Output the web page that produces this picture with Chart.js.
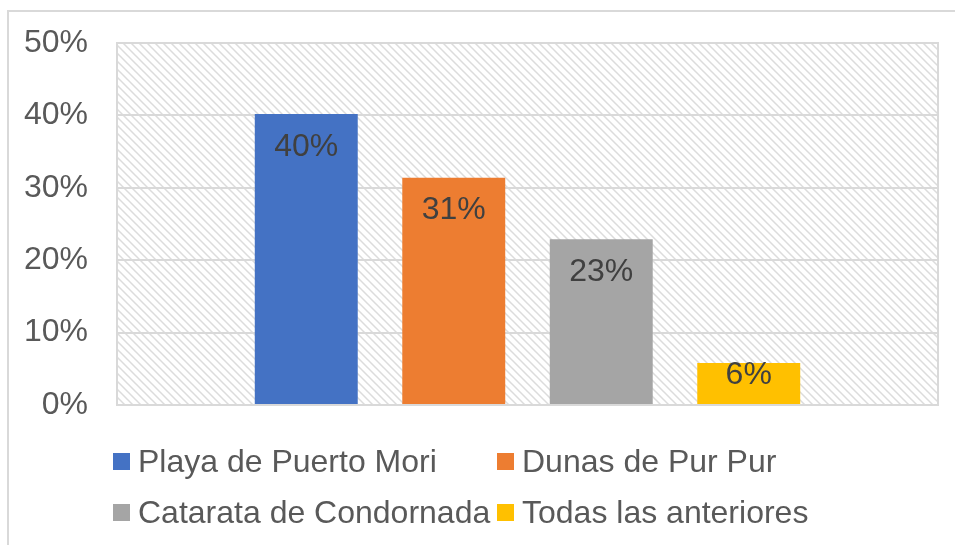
<!DOCTYPE html>
<html>
<head>
<meta charset="utf-8">
<script src="https://cdn.jsdelivr.net/npm/chart.js@4/dist/chart.umd.min.js"></script>
<style>
  body { margin: 0; background: #fff; }
  #wrap { position: relative; width: 955px; height: 545px; overflow: hidden; }
  #frame { position: absolute; left: 7px; top: 10px; width: 1000px; height: 600px; border: 2px solid #d9d9d9; box-sizing: border-box; }
  #myChart { position: absolute; left: 0; top: 0; }
  #legend { position: absolute; left: 113px; top: 440px; display: grid; grid-template-columns: 384px 384px; row-gap: 8px;
    font-family: "Liberation Sans", Arial, sans-serif; font-size: 32px; color: #595959; }
  #legend .item { display: flex; align-items: center; height: 43px; white-space: nowrap; }
  #legend .box { width: 17px; height: 17px; margin-right: 8px; flex: none; }
</style>
</head>
<body>
<div id="wrap">
  <div id="frame"></div>
  <canvas id="myChart" width="955" height="545"></canvas>
  <div id="legend"></div>
</div>
<script>
const categorias = ['Playa de Puerto Mori', 'Dunas de Pur Pur', 'Catarata de Condornada', 'Todas las anteriores'];
const valores = [40.2, 31.4, 22.9, 5.8];
const colores = ['#4472C4', '#ED7D31', '#A5A5A5', '#FFC000'];
const ticksY = [0, 10, 20, 30, 40, 50];

// trama diagonal del fondo del area de grafico
const patron = (() => {
  const c = document.createElement('canvas');
  c.width = 8; c.height = 8;
  const g = c.getContext('2d');
  g.fillStyle = '#fff';
  g.fillRect(0, 0, 8, 8);
  g.strokeStyle = '#dcdcdc';
  g.lineWidth = 1.5;
  g.beginPath();
  g.moveTo(-2, -2); g.lineTo(10, 10);
  g.moveTo(-6, 2); g.lineTo(2, 10);
  g.moveTo(6, -2); g.lineTo(10, 2);
  g.stroke();
  return g.createPattern(c, 'repeat');
})();

const fondo = {
  id: 'fondo',
  beforeDraw(chart) {
    const a = chart.chartArea;
    const ctx = chart.ctx;
    ctx.save();
    ctx.fillStyle = patron;
    ctx.fillRect(a.left, a.top, a.right - a.left, a.bottom - a.top);
    ctx.restore();
  },
  beforeDatasetsDraw(chart) {
    const a = chart.chartArea;
    const ctx = chart.ctx;
    ctx.save();
    ctx.strokeStyle = '#d9d9d9';
    ctx.lineWidth = 2;
    ctx.strokeRect(a.left, a.top, a.right - a.left, a.bottom - a.top);
    ctx.restore();
  }
};

const etiquetas = {
  id: 'etiquetas',
  afterDatasetsDraw(chart) {
    const ctx = chart.ctx;
    ctx.save();
    ctx.font = '32px "Liberation Sans", Arial, sans-serif';
    ctx.fillStyle = '#404040';
    ctx.textAlign = 'center';
    ctx.textBaseline = 'middle';
    chart.data.datasets.forEach((ds, i) => {
      const bar = chart.getDatasetMeta(i).data[0];
      const y = Math.min(bar.y + 33, bar.base - 29);
      ctx.fillText(Math.round(ds.data[0]) + '%', bar.x, y);
    });
    ctx.restore();
  }
};

const ctx = document.getElementById('myChart');

const myChart = new Chart(ctx, {
  type: 'bar',
  data: {
    labels: [''],
    datasets: categorias.map((nombre, i) => ({
      label: nombre,
      data: [valores[i]],
      backgroundColor: colores[i],
      categoryPercentage: 0.7186,
      barPercentage: 0.698
    }))
  },
  options: {
    responsive: false,
    animation: false,
    layout: { padding: { top: 43, right: 17, bottom: 140, left: 0 } },
    plugins: { legend: { display: false }, tooltip: { enabled: false } },
    scales: {
      x: {
        grid: { display: false },
        border: { display: false },
        ticks: { display: false },
        afterFit: (s) => { s.height = 0; }
      },
      y: {
        min: 0,
        max: 50,
        afterBuildTicks: (s) => { s.ticks = ticksY.map(v => ({ value: v })); },
        grid: { color: '#d9d9d9', lineWidth: 2, drawTicks: false },
        border: { display: false },
        ticks: {
          padding: 29,
          color: '#595959',
          font: { family: '"Liberation Sans", Arial, sans-serif', size: 32 },
          callback: (v) => v + '%'
        },
        afterFit: (s) => { s.width = 117; s.paddingTop = 0; s.paddingBottom = 0; }
      }
    }
  },
  plugins: [fondo, etiquetas]
});

// leyenda en dos columnas como en el original
const leyenda = document.getElementById('legend');
myChart.data.datasets.forEach(ds => {
  const item = document.createElement('div');
  item.className = 'item';
  const box = document.createElement('span');
  box.className = 'box';
  box.style.background = ds.backgroundColor;
  const txt = document.createElement('span');
  txt.textContent = ds.label;
  item.appendChild(box);
  item.appendChild(txt);
  leyenda.appendChild(item);
});
</script>
</body>
</html>
